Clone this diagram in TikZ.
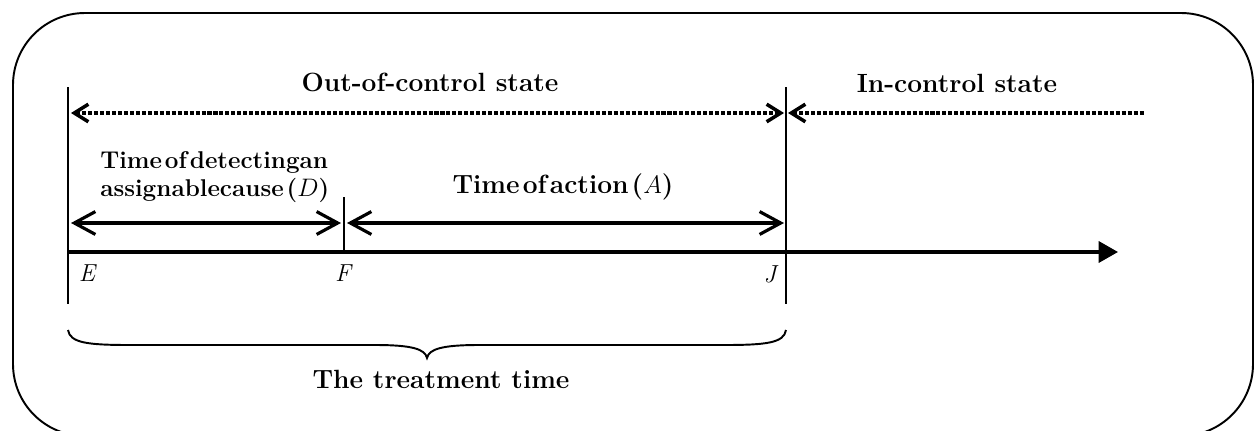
\documentclass[tikz,border=0pt]{standalone}
\usetikzlibrary{arrows.meta}
\newcommand\tightwords{\spaceskip=0.12em plus 0.05em\relax}
\begin{document}
\begin{tikzpicture}
            [x=0.02cm,y=-0.02cm,every node/.style={inner sep=0pt},
             title/.style={font=\bfseries\fontsize{15}{15.5}\selectfont},
             tight/.style={font=\bfseries\fontsize{15}{15.5}\selectfont\tightwords},
             point/.style={font=\itshape\fontsize{14}{16}\selectfont},
             span/.style={line width=1.8pt,{Straight Barb[length=12pt,width=13pt]}-{Straight Barb[length=12pt,width=13pt]}},
             state/.style={line width=2pt,dash pattern=on 2.3pt off 1.1pt},
             statetip/.tip={Straight Barb[length=8pt,width=10pt,line width=2pt]}]
            \useasboundingbox (0,0) rectangle (1254,430);
            \clip (0,0) rectangle (1254,430);
            % frame
            \draw[line width=1.1pt,rounded corners=1.44cm] (13,13) rectangle (1253,436);
            % time marks
            \coordinate (Etop) at (68,87);
            \coordinate (Ebot) at (68,304);
            \coordinate (Jtop) at (786,87);
            \coordinate (Jbot) at (786,304);
            \coordinate (Ftop) at (344,197);
            \coordinate (Fax) at (344,252);
            \coordinate (Eax) at (68,252);
            \coordinate (tend) at (1118,252);
            \draw[line width=0.9pt] (Etop) -- (Ebot);
            \draw[line width=0.9pt] (Jtop) -- (Jbot);
            \draw[line width=0.9pt] (Ftop) -- (Fax);
            % the time axis
            \draw[line width=1.8pt,-{Triangle[length=11pt,width=12pt]}] (Eax) -- (tend);
            \node[point] (E) at (87,273) {E};
            \node[point] (F) at (343,273) {F};
            \node[point] (J) at (770,274) {J};
            % the states
            \coordinate (out1) at (71,113);
            \coordinate (out2) at (784,113);
            \coordinate (in1) at (788,113);
            \coordinate (in2) at (1145,113);
            \draw[state,statetip-statetip] (out1) -- (out2);
            \draw[state,statetip-] (in1) -- (in2);
            \node[title] (outctrl) at (430,82) {Out-of-control state};
            \node[title] (inctrl) at (957,83) {In-control state};
            % the two spans
            \coordinate (d1) at (71,223);
            \coordinate (d2) at (341,223);
            \coordinate (a1) at (347,223);
            \coordinate (a2) at (784,223);
            \draw[span] (d1) -- (d2);
            \draw[span] (a1) -- (a2);
            \node[tight,font=\bfseries\fontsize{13.8}{15.5}\selectfont\tightwords,align=left,anchor=west] (detect) at (100,177) {Time of detectingan\\assignablecause ($D$)};
            \node[tight] (action) at (563,187) {Time of action ($A$)};
            % the brace
            \coordinate (b1) at (68,330);
            \coordinate (bm) at (427,358);
            \coordinate (b2) at (786,330);
            \draw[line width=1.1pt] (b1) .. controls (70,343) and (88,345) .. (130,345) -- (375,345)
                .. controls (412,345) and (425,349) .. (bm)
                .. controls (429,349) and (442,345) .. (479,345) -- (724,345)
                .. controls (766,345) and (784,343) .. (b2);
            \node[title] (treat) at (441,379) {The treatment time};
        \end{tikzpicture}
\end{document}
